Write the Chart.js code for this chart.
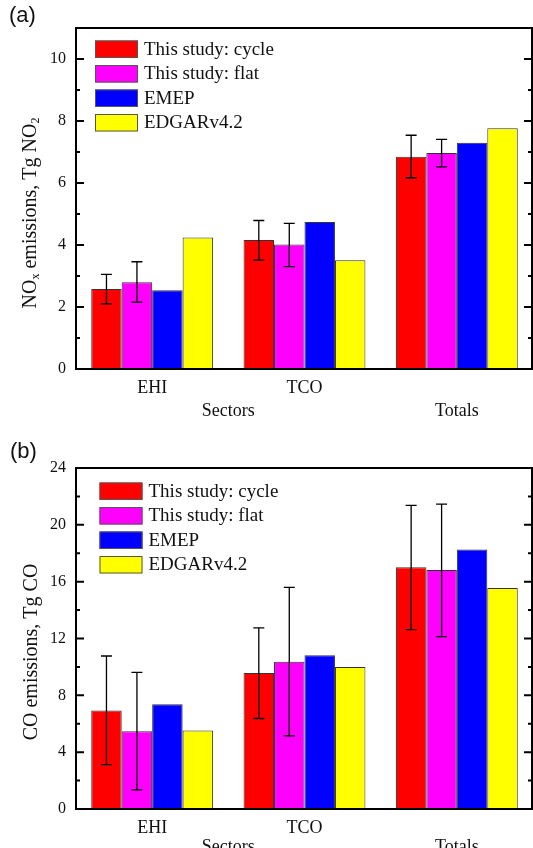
<!DOCTYPE html>
<html>
<head>
<meta charset="utf-8">
<script src="https://cdn.jsdelivr.net/npm/chart.js@4/dist/chart.umd.min.js"></script>
<style>
  body { margin: 0; background: #fff; }
  canvas { display: block; }
</style>
</head>
<body>
<canvas id="chartNox" width="533" height="424"></canvas>
<canvas id="chartCo" width="533" height="424"></canvas>
<script>
const categories = ['EHI', 'TCO', 'Totals'];
const seriesNames = ['This study: cycle', 'This study: flat', 'EMEP', 'EDGARv4.2'];
const seriesColors = ['#ff0000', '#ff00ff', '#0000ff', '#ffff00'];

// (a) NOx, Tg NO2
const noxCycle = [2.58, 4.16, 6.85];
const noxCycleLow = [2.10, 3.51, 6.17];
const noxCycleHigh = [3.05, 4.79, 7.54];
const noxFlat = [2.80, 4.02, 6.97];
const noxFlatLow = [2.16, 3.30, 6.52];
const noxFlatHigh = [3.46, 4.70, 7.41];
const noxEmep = [2.54, 4.74, 7.30];
const noxEdgar = [4.24, 3.51, 7.77];

// (b) CO, Tg CO
const coCycle = [6.94, 9.57, 17.01];
const coCycleLow = [3.13, 6.37, 12.63];
const coCycleHigh = [10.77, 12.75, 21.37];
const coFlat = [5.48, 10.36, 16.82];
const coFlatLow = [1.34, 5.14, 12.13];
const coFlatHigh = [9.62, 15.60, 21.46];
const coEmep = [7.37, 10.82, 18.26];
const coEdgar = [5.53, 10.00, 15.55];

const serif = '"Liberation Serif", "Times New Roman", serif';

// error bars, frame with inward ticks, legend, axis titles
const extras = {
    id: 'extras',
    afterDatasetsDraw(chart, args, opts) {
        const ctx = chart.ctx;
        const area = chart.chartArea;
        const y = chart.scales.y;
        const x = chart.scales.x;
        ctx.save();

        // error bars
        ctx.strokeStyle = '#000';
        ctx.lineWidth = 1.3;
        chart.data.datasets.forEach((ds, i) => {
            if (!ds.errLow) return;
            chart.getDatasetMeta(i).data.forEach((bar, j) => {
                const yl = y.getPixelForValue(ds.errLow[j]);
                const yh = y.getPixelForValue(ds.errHigh[j]);
                ctx.beginPath();
                ctx.moveTo(bar.x, yl); ctx.lineTo(bar.x, yh);
                ctx.moveTo(bar.x - 5.5, yl); ctx.lineTo(bar.x + 5.5, yl);
                ctx.moveTo(bar.x - 5.5, yh); ctx.lineTo(bar.x + 5.5, yh);
                ctx.stroke();
            });
        });

        // frame
        ctx.lineWidth = 2;
        ctx.strokeRect(area.left, area.top, area.right - area.left - 1, area.bottom - area.top);

        // ticks, pointing inward on both sides
        for (let v = y.min; v <= y.max; v += opts.minorStep) {
            const py = y.getPixelForValue(v);
            const len = (v % opts.majorStep === 0) ? 8 : 4;
            ctx.beginPath();
            ctx.moveTo(area.left, py); ctx.lineTo(area.left + len, py);
            ctx.moveTo(area.right - 1, py); ctx.lineTo(area.right - 1 - len, py);
            ctx.stroke();
        }

        // legend
        ctx.font = '19px ' + serif;
        ctx.textBaseline = 'middle';
        ctx.textAlign = 'left';
        chart.data.datasets.forEach((ds, i) => {
            const bx = area.left + opts.legendX;
            const by = area.top + opts.legendY + i * 24.5;
            ctx.fillStyle = ds.backgroundColor;
            ctx.fillRect(bx, by, 43, 17.5);
            ctx.lineWidth = 1;
            ctx.strokeStyle = '#555';
            ctx.strokeRect(bx + 0.5, by + 0.5, 42, 16.5);
            ctx.fillStyle = '#111';
            ctx.fillText(ds.label, bx + 49, by + 9.5);
        });

        // second row under the x axis
        ctx.font = '18px ' + serif;
        ctx.textAlign = 'center';
        ctx.fillText('Sectors', (x.getPixelForValue(0) + x.getPixelForValue(1)) / 2, opts.rowY);
        ctx.fillText('Totals', x.getPixelForValue(2), opts.rowY);

        // y title with subscripts
        ctx.translate(opts.titleX, opts.titleY);
        ctx.rotate(-Math.PI / 2);
        const parts = opts.title;
        let w = 0;
        parts.forEach(p => {
            ctx.font = (p[1] ? '12px ' : '20px ') + serif;
            w += ctx.measureText(p[0]).width;
        });
        let cx = -w / 2;
        ctx.textAlign = 'left';
        ctx.textBaseline = 'alphabetic';
        parts.forEach(p => {
            ctx.font = (p[1] ? '12px ' : '20px ') + serif;
            ctx.fillText(p[0], cx, p[1] ? 10 : 7);
            cx += ctx.measureText(p[0]).width;
        });
        ctx.restore();

        // panel label
        ctx.save();
        ctx.font = '22px "Liberation Sans", Arial, sans-serif';
        ctx.fillStyle = '#111';
        ctx.textBaseline = 'middle';
        ctx.fillText(opts.panel, opts.panelX, opts.panelY);
        ctx.restore();
    }
};

function makeChart(id, values, lows, highs, yMax, step, minor, topPad, xHeight, opts) {
    const datasets = values.map((vals, i) => ({
        label: seriesNames[i],
        data: vals,
        backgroundColor: seriesColors[i],
        borderColor: '#333',
        borderWidth: 1,
        errLow: lows[i],
        errHigh: highs[i],
        categoryPercentage: 0.8,
        barPercentage: 1.0
    }));
    return new Chart(document.getElementById(id), {
        type: 'bar',
        data: { labels: categories, datasets: datasets },
        options: {
            responsive: false,
            animation: false,
            layout: { padding: { top: topPad, right: 0, left: 0, bottom: 0 } },
            plugins: {
                legend: { display: false },
                tooltip: { enabled: false },
                extras: Object.assign({ majorStep: step, minorStep: minor }, opts)
            },
            scales: {
                x: {
                    grid: { display: false, drawTicks: false },
                    border: { display: false },
                    ticks: {
                        padding: 8,
                        color: '#111',
                        font: { family: serif, size: 18 },
                        callback: (v, i) => i === 2 ? '' : categories[i]
                    },
                    afterFit: s => { s.height = xHeight; }
                },
                y: {
                    min: 0,
                    max: yMax,
                    grid: { display: false, drawTicks: false },
                    border: { display: false },
                    ticks: {
                        stepSize: step,
                        includeBounds: false,
                        padding: 10,
                        color: '#111',
                        font: { family: serif, size: 16 },
                        callback: v => (v % step === 0 ? v : '')
                    },
                    afterFit: s => { s.width = 76; }
                }
            }
        },
        plugins: [extras]
    });
}

makeChart('chartNox',
    [noxCycle, noxFlat, noxEmep, noxEdgar],
    [noxCycleLow, noxFlatLow, null, null],
    [noxCycleHigh, noxFlatHigh, null, null],
    11, 2, 1, 28, 55,
    {
        legendX: 19, legendY: 12.5, rowY: 411,
        title: [['NO', false], ['x', true], [' emissions, Tg NO', false], ['2', true]],
        titleX: 29, titleY: 213,
        panel: '(a)', panelX: 9, panelY: 16
    });

makeChart('chartCo',
    [coCycle, coFlat, coEmep, coEdgar],
    [coCycleLow, coFlatLow, null, null],
    [coCycleHigh, coFlatHigh, null, null],
    24, 4, 2, 44, 39,
    {
        legendX: 23.5, legendY: 14.5, rowY: 423,
        title: [['CO emissions, Tg CO', false]],
        titleX: 30, titleY: 228,
        panel: '(b)', panelX: 10, panelY: 28
    });
</script>
</body>
</html>
